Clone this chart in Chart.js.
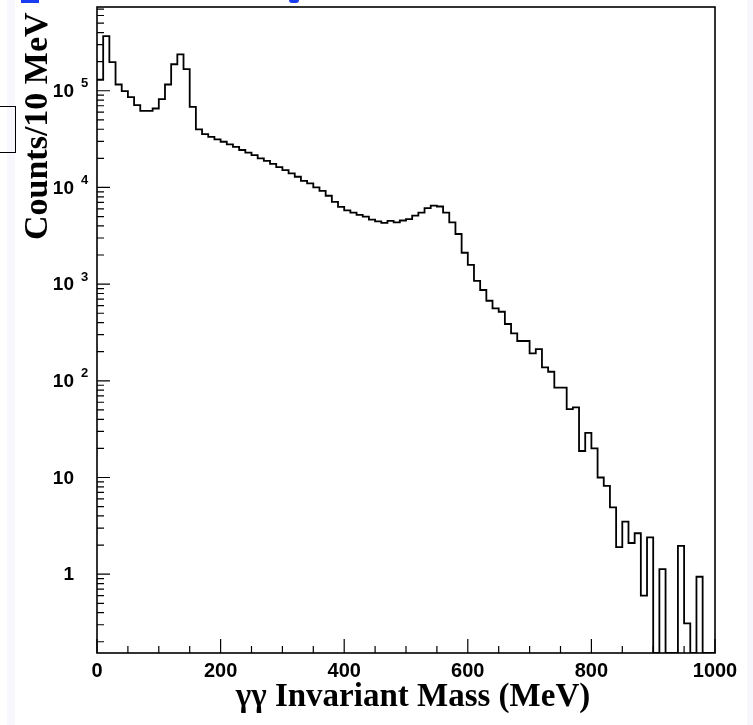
<!DOCTYPE html>
<html>
<head>
<meta charset="utf-8">
<title>gamma gamma invariant mass</title>
<script src="https://cdn.jsdelivr.net/npm/chart.js@4.4.0/dist/chart.umd.min.js"></script>
<style>
  html, body { margin: 0; padding: 0; background: #fff; }
  #wrap { position: relative; width: 753px; height: 725px; overflow: hidden; }
  #massChart { position: absolute; left: 0; top: 0; }
  .strip { position: absolute; top: 0; height: 725px; background: #f7f7fd; }
  #box { position: absolute; left: -4px; top: 106px; width: 18px; height: 45px; border: 1.5px solid #000; }
  .link { position: absolute; top: 0; background: #1a3cf0; }
</style>
</head>
<body>
<div id="wrap">
  <div class="strip" style="left:7px;width:8px"></div>
  <div class="strip" style="left:747px;width:6px"></div>
  <canvas id="massChart" width="753" height="725"></canvas>
  <div id="box"></div>
  <div class="link" style="left:21px;width:18px;height:3px"></div>
  <div class="link" style="left:289px;width:10px;height:3px;border-radius:0 0 5px 5px"></div>
</div>
<script>
// 10 MeV bins, low edge of each bin (MeV)
const massBins = [
  0, 10, 20, 30, 40, 50, 60, 70, 80, 90,
  100, 110, 120, 130, 140, 150, 160, 170, 180, 190,
  200, 210, 220, 230, 240, 250, 260, 270, 280, 290,
  300, 310, 320, 330, 340, 350, 360, 370, 380, 390,
  400, 410, 420, 430, 440, 450, 460, 470, 480, 490,
  500, 510, 520, 530, 540, 550, 560, 570, 580, 590,
  600, 610, 620, 630, 640, 650, 660, 670, 680, 690,
  700, 710, 720, 730, 740, 750, 760, 770, 780, 790,
  800, 810, 820, 830, 840, 850, 860, 870, 880, 890,
  900, 910, 920, 930, 940, 950, 960, 970, 980, 990
];
const binTop = 1000;

// counts per 10 MeV (0 = empty bin)
const counts = [
  130000, 368000, 198000, 116000, 99000, 86000, 71000, 62000, 62000, 65500,
  82000, 116000, 188000, 238000, 167000, 68000, 39900, 35600, 33400, 31400,
  29700, 27900, 26300, 24400, 22900, 21600, 20000, 18800, 17500, 16200,
  15100, 14000, 12900, 11700, 11000, 10000, 9200, 8200, 7100, 6300,
  5800, 5500, 5200, 5000, 4650, 4450, 4300, 4500, 4350, 4550,
  4700, 5100, 5500, 6100, 6500, 6350, 5500, 4350, 3300, 2110,
  1580, 1080, 869, 673, 562, 518, 387, 310, 258, 258,
  192, 213, 138, 124, 85, 85, 51, 53, 18.8, 29,
  20, 10, 8.2, 4.9, 1.9, 3.5, 2.1, 2.65, 0.6, 2.4,
  0, 1.13, 0, 0, 1.96, 0.31, 0, 0.94, 0, 0
];

const xTickMajor = [0, 200, 400, 600, 800, 1000];
const yTickValues = [1, 10, 100, 1000, 10000, 100000];
const yTickBase = ['1', '10', '10', '10', '10', '10'];
const yTickExp = ['', '', '2', '3', '4', '5'];

const Y_MIN = 0.153;
const Y_MAX = 735000;

// step outline: one point per bin low edge, plus the closing edge
var points = massBins.map((m, i) => ({ x: m, y: counts[i] > 0 ? counts[i] : Y_MIN }));
points.push({ x: binTop, y: points[points.length - 1].y });

// ROOT-like frame, inward ticks, exponent labels and axis titles
const rootFrame = {
  id: 'rootFrame',
  afterDraw(chart) {
    const ctx = chart.ctx;
    const a = chart.chartArea;
    const x = chart.scales.x;
    const y = chart.scales.y;
    ctx.save();
    ctx.strokeStyle = '#000';
    ctx.lineWidth = 1.6;
    ctx.strokeRect(a.left, a.top, a.right - a.left, a.bottom - a.top);

    ctx.lineWidth = 1.2;
    ctx.beginPath();
    for (let m = 0; m <= 1000; m += 50) {
      const px = x.getPixelForValue(m);
      const len = xTickMajor.includes(m) ? 14 : 7;
      ctx.moveTo(px, a.bottom);
      ctx.lineTo(px, a.bottom - len);
    }
    for (let e = -1; e <= 5; e++) {
      for (let k = 1; k <= 9; k++) {
        const v = k * Math.pow(10, e);
        if (v < y.min || v > y.max) continue;
        const py = y.getPixelForValue(v);
        const len = k === 1 ? 13 : 7;
        ctx.moveTo(a.left, py);
        ctx.lineTo(a.left + len, py);
      }
    }
    ctx.stroke();

    // y labels "10" with raised exponent
    ctx.fillStyle = '#000';
    ctx.textBaseline = 'middle';
    yTickValues.forEach((v, i) => {
      const py = y.getPixelForValue(v);
      ctx.font = 'bold 19px "Liberation Sans", Arial, sans-serif';
      ctx.textAlign = 'right';
      ctx.fillText(yTickBase[i], 74, py + 1);
      if (yTickExp[i]) {
        ctx.font = 'bold 13px "Liberation Sans", Arial, sans-serif';
        ctx.textAlign = 'left';
        ctx.fillText(yTickExp[i], 81, py - 7);
      }
    });

    // titles
    ctx.font = 'bold 34px "Liberation Serif", "Times New Roman", serif';
    ctx.textBaseline = 'alphabetic';
    ctx.save();
    ctx.translate(47, 240);
    ctx.rotate(-Math.PI / 2);
    ctx.textAlign = 'left';
    ctx.fillText('Counts/10 MeV', 0, 0);
    ctx.restore();

    ctx.font = 'bold 33px "Liberation Serif", "Times New Roman", serif';
    ctx.textAlign = 'center';
    ctx.fillText('\u03b3\u03b3 Invariant Mass (MeV)', 413, 706);
    ctx.restore();
  }
};

const ctx1 = document.getElementById('massChart');
var massChart = new Chart(ctx1, {
  type: 'line',
  data: {
    datasets: [{
      label: 'counts',
      data: points,
      // 'before' keeps each point's value until the next bin edge
      stepped: 'before',
      borderColor: '#000',
      borderWidth: 1.8,
      pointRadius: 0,
      fill: false
    }]
  },
  options: {
    responsive: false,
    animation: false,
    devicePixelRatio: 1,
    layout: { padding: { top: 7, right: 38, left: 0, bottom: 0 } },
    plugins: {
      legend: { display: false },
      tooltip: { enabled: false }
    },
    scales: {
      x: {
        type: 'linear',
        min: 0,
        max: 1000,
        grid: { display: false, drawTicks: false },
        border: { display: false },
        ticks: {
          stepSize: 200,
          autoSkip: false,
          maxRotation: 0,
          padding: 6,
          color: '#000',
          font: { family: '"Liberation Sans", Arial, sans-serif', size: 20, weight: 'bold' },
          callback: (v) => xTickMajor.includes(v) ? String(v) : ''
        },
        afterFit: (s) => { s.height = 72; }
      },
      y: {
        type: 'logarithmic',
        min: Y_MIN,
        max: Y_MAX,
        grid: { display: false, drawTicks: false },
        border: { display: false },
        ticks: { display: false },
        afterFit: (s) => { s.width = 97; }
      }
    }
  },
  plugins: [rootFrame]
});
</script>
</body>
</html>
